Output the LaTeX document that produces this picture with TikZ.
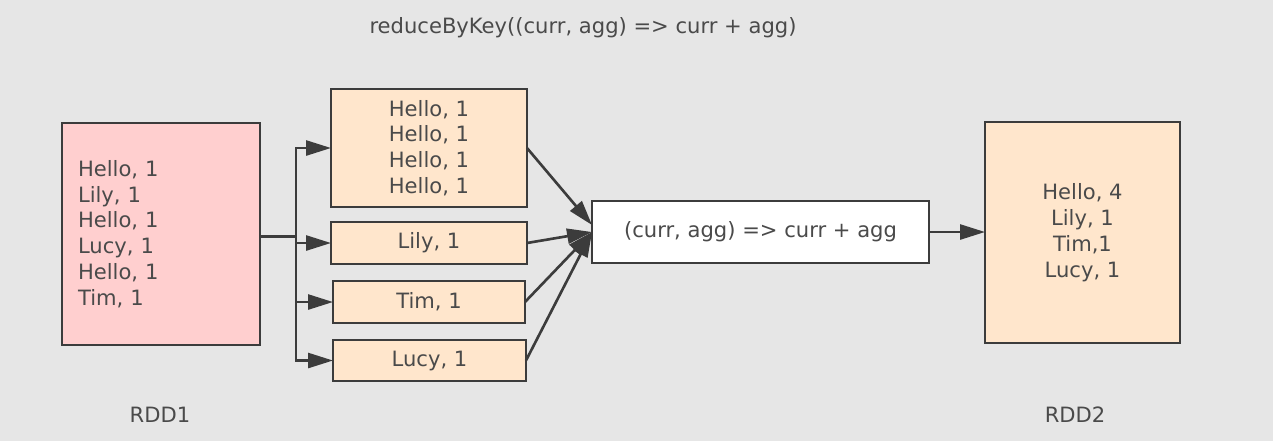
\documentclass[tikz,border=0pt]{standalone}
\usepackage{fontspec}
\setmainfont{DejaVu Sans}
\usepackage{tikz}
\usetikzlibrary{arrows.meta,positioning,calc}
\definecolor{bg}{HTML}{E6E6E6}
\definecolor{pinkfill}{HTML}{FFCFCF}
\definecolor{peach}{HTML}{FFE6CC}
\definecolor{edge}{HTML}{3C3C3C}
\definecolor{ink}{HTML}{4A4A4A}
\tikzset{
  rddbox/.style={draw=edge,line width=1.1pt,inner sep=0pt,outer sep=0pt,
    text=ink,font=\fontsize{12}{14.7}\selectfont},
  part/.style={rddbox,fill=peach,align=center},
  func/.style={rddbox,fill=white,align=center},
  arrow/.style={-{Triangle[length=0.5cm,width=0.3cm]},draw=edge,line width=1.5pt},
  caption/.style={text=ink,font=\fontsize{12}{14}\selectfont}
}
\begin{document}
\begin{tikzpicture}[x=0.02cm,y=-0.02cm]
  \fill[bg] (0,0) rectangle (1273,441);
  \useasboundingbox (0,0) rectangle (1273,441);

  \node[caption] (title) at (583,28) {reduceByKey((curr, agg) => curr + agg)};

  \node[rddbox,fill=pinkfill,minimum width=3.96cm,minimum height=4.44cm,
    text width=3.32cm,align=left] (rdd1) at (161,234)
    {Hello, 1\\Lily, 1\\Hello, 1\\Lucy, 1\\Hello, 1\\Tim, 1};
  \node[caption] (rdd1label) at (160,415) {RDD1};

  \node[part,minimum width=3.92cm,minimum height=2.36cm] (hello) at (429,148)
    {Hello, 1\\Hello, 1\\Hello, 1\\Hello, 1};
  \node[part,minimum width=3.92cm,minimum height=0.84cm] (lily) at (429,243) {Lily, 1};
  \node[part,minimum width=3.84cm,minimum height=0.84cm] (tim) at (429,302) {Tim, 1};
  \node[part,minimum width=3.86cm,minimum height=0.82cm] (lucy) at (429.5,360.5) {Lucy, 1};

  \node[func,minimum width=6.74cm,minimum height=1.24cm] (reduce) at (760.5,232)
    {(curr, agg) => curr + agg};

  \node[part,minimum width=3.9cm,minimum height=4.42cm] (rdd2) at (1082.5,232.5)
    {Hello, 4\\Lily, 1\\Tim,1\\Lucy, 1};
  \node[caption] (rdd2label) at (1075,415) {RDD2};

  % split by key
  \coordinate (split) at (296,236);
  \draw[edge,line width=1.7pt] (rdd1.east |- split) -- (split);
  \foreach \b in {hello,lily,tim,lucy}
    \draw[arrow] (split) |- (\b.west);

  % reduce
  \draw[arrow] (hello.east) -- ([yshift=0.14cm]reduce.west);
  \foreach \b in {lily,tim,lucy}
    \draw[arrow] (\b.east) -- (reduce.west);
  \draw[arrow] (reduce.east) -- (reduce.east -| rdd2.west);
\end{tikzpicture}
\end{document}
